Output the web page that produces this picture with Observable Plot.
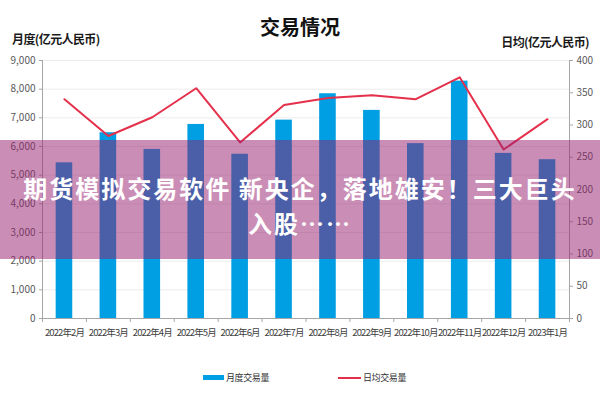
<!DOCTYPE html>
<html>
<head>
<meta charset="utf-8">
<script src="https://cdn.jsdelivr.net/npm/d3@7"></script>
<script src="https://cdn.jsdelivr.net/npm/@observablehq/plot@0.6"></script>
<style>
  html, body { margin: 0; padding: 0; background: #fff; }
  #wrap { position: relative; width: 600px; height: 400px; overflow: hidden; font-family: "Noto Sans CJK SC", "Noto Sans", sans-serif; }
  #chart svg { position: absolute; left: 0; top: 0; }
  .abs { position: absolute; white-space: nowrap; }
  #title { left: 0; width: 600px; top: 12px; text-align: center; font-size: 20px; font-weight: 700; color: #111; }
  #ylab { left: 12px; top: 30px; font-size: 12px; font-weight: 700; color: #1a1a1a; letter-spacing: -0.6px; }
  #y2lab { right: 11px; top: 33px; font-size: 12px; font-weight: 700; color: #1a1a1a; letter-spacing: -0.6px; }
  .leg { font-size: 9px; color: #333; top: 371px; letter-spacing: -0.4px; }
  #banner { left: 0; top: 140px; width: 600px; height: 119px; background: rgba(150, 30, 110, 0.5); }
  #btext { left: 0; width: 600px; top: 170px; text-align: center; color: #fff; font-size: 24px; font-weight: 700; line-height: 35px; letter-spacing: 2px; }
  g[aria-label="x-axis tick label"] text { letter-spacing: -0.9px; }
</style>
</head>
<body>
<div id="wrap">
  <div id="chart"></div>
  <div class="abs" id="title">交易情况</div>
  <div class="abs" id="ylab">月度(亿元人民币)</div>
  <div class="abs" id="y2lab">日均(亿元人民币)</div>
  <div class="abs" style="left:203px; top:375px; width:21px; height:5px; background:#009fe3;"></div>
  <div class="abs leg" style="left:226px;">月度交易量</div>
  <div class="abs" style="left:338px; top:377px; width:23px; height:2px; background:#e5304b;"></div>
  <div class="abs leg" style="left:363px;">日均交易量</div>
  <div class="abs" id="banner"></div>
  <div class="abs" id="btext">期货模拟交易软件 新央企，落地雄安！三大巨头<br>入股……</div>
</div>
<script>
const months = ["2022年2月","2022年3月","2022年4月","2022年5月","2022年6月","2022年7月","2022年8月","2022年9月","2022年10月","2022年11月","2022年12月","2023年1月"];
const monthly = [5430, 6480, 5900, 6770, 5730, 6920, 7840, 7260, 6100, 8280, 5760, 5540];
const daily = [340, 283, 312, 357, 273, 331, 342, 346, 340, 374, 262, 309];
const leftTicks = [0, 1000, 2000, 3000, 4000, 5000, 6000, 7000, 8000, 9000];
const rightTicks = [0, 50, 100, 150, 200, 250, 300, 350, 400];

const yMax = 9000, y2Max = 400, k = yMax / y2Max;
const rows = months.map((m, i) => ({month: m, monthly: monthly[i], daily: daily[i] * k}));

const width = 600, height = 400;
const mL = 42, mR = 31, mT = 60, mB = 82;
const step = (width - mL - mR) / months.length;
const barW = 16.6;
const tickLen = 4 * yMax / (height - mT - mB);
const axisColor = "#a6a6a6";

const chart = Plot.plot({
  width, height,
  marginLeft: mL, marginRight: mR, marginTop: mT, marginBottom: mB,
  style: {fontFamily: "'Noto Sans CJK SC', 'Noto Sans', sans-serif", fontSize: "10px", background: "transparent"},
  x: {type: "band", domain: months, padding: 0, round: false},
  y: {domain: [0, yMax]},
  marks: [
    Plot.ruleY(leftTicks.slice(1), {stroke: "#ececec"}),
    Plot.barY(rows, {x: "month", y: "monthly", fill: "#009fe3", insetLeft: (step - barW) / 2, insetRight: (step - barW) / 2}),
    Plot.ruleY([0], {stroke: axisColor}),
    Plot.ruleX(months, {x: d => d, dx: -step / 2, y1: 0, y2: -tickLen, stroke: axisColor}),
    Plot.ruleX(months.slice(-1), {x: d => d, dx: step / 2, y1: 0, y2: -tickLen, stroke: axisColor}),
    Plot.ruleX(months.slice(0, 1), {x: d => d, dx: -step / 2, y1: 0, y2: yMax, stroke: axisColor}),
    Plot.ruleX(months.slice(-1), {x: d => d, dx: step / 2, y1: 0, y2: yMax, stroke: axisColor}),
    Plot.lineY(rows, {x: "month", y: "daily", stroke: "#e5304b", strokeWidth: 2}),
    Plot.axisY({anchor: "left", ticks: leftTicks, tickFormat: d3.format(","), tickSize: 3, tickPadding: 4, stroke: axisColor, fill: "#595959", label: null}),
    Plot.axisY({anchor: "right", ticks: rightTicks.map(v => v * k), tickFormat: d => String(Math.round(d / k)), tickSize: 3, tickPadding: 4, stroke: axisColor, fill: "#595959", label: null}),
    Plot.axisX({ticks: months, tickSize: 0, tickPadding: 11, fill: "#404040", fontSize: 9.5, label: null})
  ]
});
document.getElementById("chart").appendChild(chart);
</script>
</body>
</html>
